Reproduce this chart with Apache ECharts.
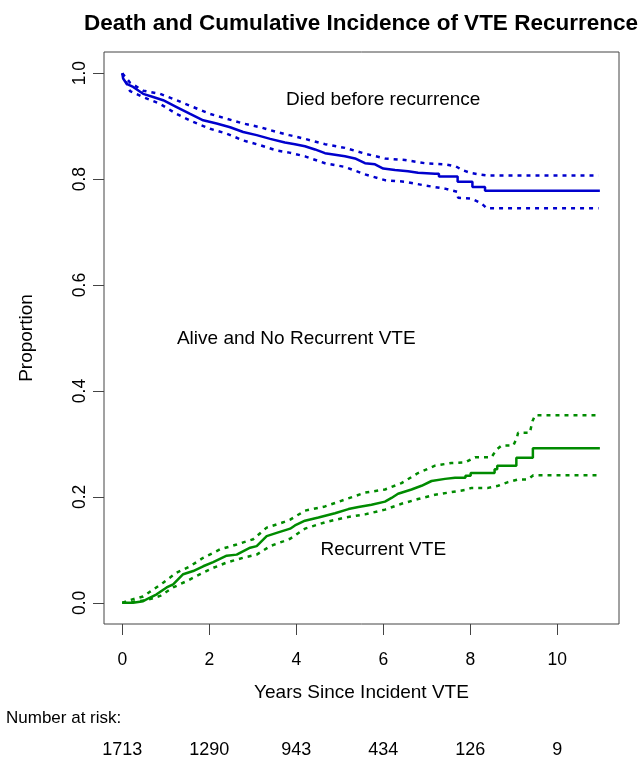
<!DOCTYPE html>
<html>
<head>
<meta charset="utf-8">
<script src="https://cdn.jsdelivr.net/npm/echarts@6/dist/echarts.min.js"></script>
<style>
html,body{margin:0;padding:0;background:#fff;}
#chart{width:644px;height:761px;}
</style>
</head>
<body>
<div id="chart"></div>
<script>
// ---- data ----
const xTicks = [0, 2, 4, 6, 8, 10];
const yTicks = [0, 0.2, 0.4, 0.6, 0.8, 1.0];
const riskCounts = [1713, 1290, 943, 434, 126, 9];

const diedEst = [[0,1.0],[0.02,0.99],[0.10,0.980],[0.25,0.974],[0.48,0.961],[0.71,0.955],[0.94,0.949],[1.25,0.936],[1.56,0.923],[1.86,0.911],[2.17,0.905],[2.48,0.898],[2.78,0.889],[3.09,0.883],[3.40,0.876],[3.74,0.869],[3.97,0.866],[4.20,0.862],[4.43,0.856],[4.66,0.849],[4.89,0.846],[5.12,0.843],[5.35,0.839],[5.58,0.830],[5.81,0.828],[6.0,0.820],[6.27,0.817],[6.57,0.815],[6.80,0.812],[7.19,0.810],[7.28,0.810],[7.28,0.805],[7.71,0.805],[7.71,0.795],[8.05,0.795],[8.05,0.785],[8.34,0.785],[8.34,0.778],[10.98,0.778]];
const diedUpper = [[0,1.0],[0.18,0.982],[0.48,0.967],[0.87,0.961],[1.25,0.949],[1.63,0.936],[2.02,0.923],[2.40,0.914],[2.78,0.905],[3.17,0.898],[3.55,0.889],[3.84,0.883],[4.20,0.876],[4.66,0.866],[5.12,0.859],[5.58,0.848],[6.04,0.839],[6.50,0.836],[6.96,0.830],[7.42,0.828],[7.67,0.824],[7.82,0.817],[8.0,0.812],[8.2,0.809],[8.4,0.807],[10.95,0.807]];
const diedLower = [[0,1.0],[0.18,0.966],[0.48,0.955],[0.87,0.942],[1.25,0.923],[1.63,0.908],[2.02,0.895],[2.40,0.886],[2.78,0.873],[3.17,0.864],[3.55,0.854],[3.84,0.850],[4.20,0.843],[4.66,0.830],[5.12,0.823],[5.58,0.809],[6.04,0.798],[6.50,0.795],[6.96,0.788],[7.42,0.782],[7.70,0.776],[7.72,0.765],[8.03,0.763],[8.26,0.754],[8.38,0.745],[10.95,0.745]];

const recurEst = [[0,0],[0.25,0],[0.48,0.003],[0.64,0.010],[0.79,0.016],[1.02,0.029],[1.17,0.035],[1.40,0.054],[1.63,0.060],[1.86,0.069],[2.09,0.077],[2.40,0.089],[2.63,0.091],[2.94,0.104],[3.09,0.107],[3.32,0.126],[3.55,0.132],[3.86,0.140],[3.97,0.146],[4.20,0.155],[4.51,0.161],[4.89,0.169],[5.20,0.177],[5.43,0.181],[5.73,0.185],[6.04,0.191],[6.19,0.198],[6.34,0.206],[6.65,0.214],[6.88,0.221],[7.11,0.230],[7.42,0.234],[7.65,0.236],[7.89,0.236],[7.89,0.240],[8.01,0.240],[8.01,0.245],[8.56,0.245],[8.56,0.252],[8.62,0.252],[8.62,0.259],[9.06,0.259],[9.06,0.274],[9.44,0.274],[9.44,0.292],[10.98,0.292]];
const recurUpper = [[0,0],[0.25,0.007],[0.48,0.012],[0.71,0.025],[0.94,0.038],[1.25,0.057],[1.56,0.069],[1.86,0.085],[2.25,0.101],[2.63,0.110],[3.01,0.120],[3.32,0.142],[3.70,0.152],[3.86,0.157],[4.20,0.174],[4.66,0.182],[5.12,0.195],[5.58,0.208],[6.04,0.214],[6.42,0.226],[6.80,0.245],[7.19,0.259],[7.57,0.264],[7.88,0.265],[8.11,0.275],[8.49,0.275],[8.60,0.289],[8.72,0.297],[8.99,0.297],[9.07,0.311],[9.10,0.321],[9.37,0.321],[9.43,0.343],[9.49,0.354],[10.95,0.354]];
const recurLower = [[0,0],[0.25,0.002],[0.56,0.005],[0.87,0.013],[1.17,0.029],[1.48,0.041],[1.79,0.054],[2.09,0.066],[2.40,0.076],[2.78,0.085],[3.09,0.091],[3.40,0.107],[3.70,0.116],[3.86,0.121],[4.20,0.140],[4.66,0.152],[5.12,0.161],[5.58,0.167],[6.04,0.176],[6.42,0.187],[6.80,0.196],[7.19,0.204],[7.57,0.209],[7.88,0.213],[8.03,0.217],[8.41,0.217],[8.64,0.221],[8.87,0.228],[9.10,0.233],[9.33,0.233],[9.45,0.241],[10.98,0.241]];

const annotations = [
  [6.0, 0.949, 'Died before recurrence'],
  [4.0, 0.498, 'Alive and No Recurrent VTE'],
  [6.0, 0.101, 'Recurrent VTE']
];

// ---- chart ----
const FONT = 'Liberation Sans, Arial, sans-serif';
const BLUE = '#0000CD';
const GREEN = '#008B00';
const XMIN = -0.42, XMAX = 11.42, YMIN = -0.04, YMAX = 1.04;

function lineSeries(data, color, dashed) {
  return {
    type: 'line', data: data, showSymbol: false, symbol: 'none',
    xAxisIndex: 0, yAxisIndex: 0, silent: true,
    lineStyle: { color: color, width: 2.5, type: dashed ? [4, 5] : 'solid' },
    z: dashed ? 2 : 3
  };
}

const chart = echarts.init(document.getElementById('chart'), null, { renderer: 'canvas' });
chart.setOption({
  animation: false,
  backgroundColor: '#fff',
  textStyle: { fontFamily: FONT },
  title: [
    { text: 'Death and Cumulative Incidence of VTE Recurrence', left: 361, top: 12, padding: 0, textAlign: 'center',
      textStyle: { fontSize: 22.5, fontWeight: 'bold', color: '#000', fontFamily: FONT } },
    { text: 'Number at risk:', left: 6, top: 710, padding: 0,
      textStyle: { fontSize: 17, fontWeight: 'normal', color: '#000', fontFamily: FONT } }
  ],
  grid: { left: 104, top: 52, right: 25, bottom: 137, show: true, borderColor: '#444', borderWidth: 1, backgroundColor: 'transparent' },
  xAxis: [
    { type: 'value', min: XMIN, max: XMAX, gridIndex: 0, position: 'bottom',
      name: 'Years Since Incident VTE', nameLocation: 'middle', nameGap: 59,
      nameTextStyle: { fontSize: 19, color: '#000', fontFamily: FONT },
      axisLine: { show: false, onZero: false },
      axisTick: { show: true, inside: false, customValues: xTicks, length: 11, lineStyle: { color: '#444', width: 1 } },
      axisLabel: { show: true, customValues: xTicks, fontSize: 17.5, color: '#000', margin: 27, fontFamily: FONT,
        formatter: v => String(Math.round(v)) },
      splitLine: { show: false } },
    { type: 'value', min: XMIN, max: XMAX, gridIndex: 0, position: 'bottom', offset: 100,
      axisLine: { show: false, onZero: false }, axisTick: { show: false }, splitLine: { show: false },
      axisLabel: { show: true, customValues: xTicks, fontSize: 18, color: '#000', margin: 17, fontFamily: FONT,
        formatter: v => String(riskCounts[Math.round(v / 2)]) } }
  ],
  yAxis: [
    { type: 'value', min: YMIN, max: YMAX, gridIndex: 0,
      name: 'Proportion', nameLocation: 'middle', nameGap: 68,
      nameTextStyle: { fontSize: 19, color: '#000', fontFamily: FONT },
      axisLine: { show: false, onZero: false },
      axisTick: { show: true, inside: false, customValues: yTicks, length: 11, lineStyle: { color: '#444', width: 1 } },
      axisLabel: { show: true, customValues: yTicks, rotate: 90, fontSize: 17.5, color: '#000', margin: 15, fontFamily: FONT,
        formatter: v => v.toFixed(1) },
      splitLine: { show: false } }
  ],
  series: [
    lineSeries(diedUpper, BLUE, true),
    lineSeries(diedLower, BLUE, true),
    lineSeries(diedEst, BLUE, false),
    lineSeries(recurUpper, GREEN, true),
    lineSeries(recurLower, GREEN, true),
    lineSeries(recurEst, GREEN, false),
    { type: 'scatter', data: annotations.map(a => [a[0], a[1], a[2]]), symbolSize: 0, silent: true,
      itemStyle: { color: 'rgba(0,0,0,0)' },
      label: { show: true, position: 'inside', color: '#000', fontSize: 19, fontFamily: FONT,
        textBorderWidth: 0, textShadowBlur: 0, opacity: 1,
        formatter: p => p.data[2] } }
  ]
});
</script>
</body>
</html>
